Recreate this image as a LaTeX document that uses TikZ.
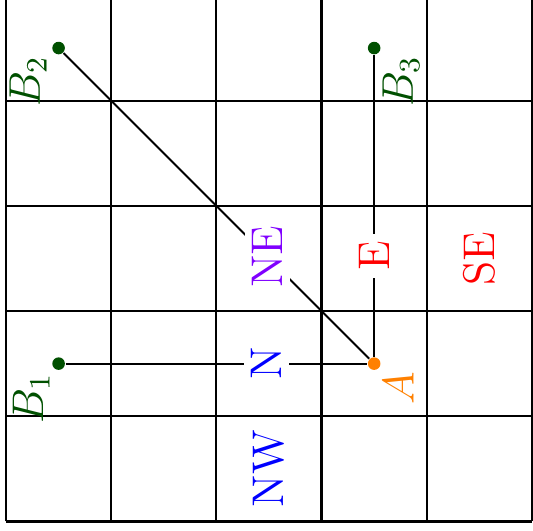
\documentclass[tikz,border=0pt]{standalone}
\usepackage{amsmath,amssymb}
\usepackage{xcolor}
\definecolor{ptgreen}{RGB}{0, 80, 0}
\definecolor{ptorange}{RGB}{255, 128, 0}
\definecolor{dirblue}{RGB}{0, 0, 255}
\definecolor{dirviolet}{RGB}{128, 0, 255}
\definecolor{dirred}{RGB}{255, 0, 0}
\usepackage{tikz}
\usetikzlibrary{calc}

\begin{document}
\begin{tikzpicture}[
  gridline/.style={line width=0.6pt},
  link/.style={line width=0.5pt},
  dot/.style={circle, fill=#1, inner sep=0pt, minimum size=3.4pt},
  dirlabel/.style={rotate=90, font=\large, fill=white, inner sep=2pt, text=#1},
  ptlabel/.style={rotate=90, font=\large, inner sep=0pt, text=#1}
]
\useasboundingbox (-0.057,-0.09) rectangle (5.01,4.957);

% grid
\draw[gridline] (0,0) grid (5,5);

% points
\node[dot=ptorange] (A) at (3.5,1.5) {};
\node[dot=ptgreen] (B1) at (0.5,1.5) {};
\node[dot=ptgreen] (B2) at (0.5,4.5) {};
\node[dot=ptgreen] (B3) at (3.5,4.5) {};

% connectors with direction labels
\draw[link] (B1) -- node[pos=2/3, dirlabel=dirblue] (lN) {N} (A);
\draw[link] (A) -- node[pos=1/3, dirlabel=dirred] (lE) {E} (B3);
\draw[link] (A) -- node[pos=1/3, dirlabel=dirviolet] (lNE) {NE} (B2);

% other directions
\node[dirlabel=dirblue] (lNW) at (2.5,0.5) {NW};
\node[dirlabel=dirred] (lSE) at (4.5,2.5) {SE};

% point labels
\node[ptlabel=ptorange] (tA) at ($(A)+(0.23,-0.23)$) {$A$};
\node[ptlabel=ptgreen] (tB1) at ($(B1)+(-0.26,-0.33)$) {$B_1$};
\node[ptlabel=ptgreen] (tB2) at ($(B2)+(-0.29,-0.32)$) {$B_2$};
\node[ptlabel=ptgreen] (tB3) at ($(B3)+(0.255,-0.32)$) {$B_3$};
\end{tikzpicture}
\end{document}
